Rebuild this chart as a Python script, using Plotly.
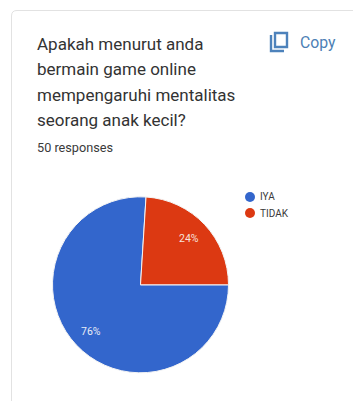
import plotly.graph_objects as go

# Survey answers (50 responses)
categories = ["IYA", "TIDAK"]
responses = [38, 12]
slice_colors = ["#3366cc", "#dc3912"]

question_lines = [
    "Apakah menurut anda",
    "bermain game online",
    "mempengaruhi mentalitas",
    "seorang anak kecil?",
]
response_count = "50 responses"
copy_label = "Copy"

W, H = 353, 401
FONT = "Roboto, Arial, sans-serif"


def px(x):
    return x / W


def py(y):
    return 1 - y / H


def path(points):
    return " ".join(
        f"{cmd}{px(x):.5f},{py(y):.5f}" for cmd, x, y in points
    )


fig = go.Figure(
    go.Pie(
        labels=categories,
        values=responses,
        sort=False,
        direction="clockwise",
        rotation=90,
        marker=dict(colors=slice_colors, line=dict(color="#f4f4f4", width=1)),
        textinfo="none",
        hoverinfo="label+percent",
        showlegend=False,
        domain=dict(x=[px(52.5), px(228.5)], y=[py(372.8), py(196.8)]),
    )
)

annotations = []


def label(x, y, text, size, color, anchor="left"):
    annotations.append(
        dict(
            x=px(x), y=py(y), xref="paper", yref="paper", text=text,
            showarrow=False, xanchor=anchor, yanchor="middle",
            font=dict(family=FONT, size=size, color=color),
            borderpad=0, borderwidth=0,
        )
    )


for i, line in enumerate(question_lines):
    label(36.5, 44 + i * 25.3, line, 17, "#333333")
label(36.5, 147.5, response_count, 12.7, "#3a3a3a")
label(300, 42, copy_label, 15.8, "#4d7fb5")

# Percentages placed on the slice bisectors
total = sum(responses)
label(91, 331, f"{responses[0] * 100 / total:.0f}%", 10.5, "#e8ecf6", "center")
label(188.5, 239, f"{responses[1] * 100 / total:.0f}%", 10.5, "#f6e2dc", "center")

# Legend rows
shapes = []
for i, (name, color) in enumerate(zip(categories, slice_colors)):
    cy = 197 + i * 16
    shapes.append(
        dict(type="circle", xref="paper", yref="paper", line_width=0,
             fillcolor=color, x0=px(245), x1=px(255), y0=py(cy + 5), y1=py(cy - 5))
    )
    label(259.5, cy, name, 10, "#3a3a3a")

# Card outline, open towards the right and bottom edges
shapes.append(
    dict(
        type="path", xref="paper", yref="paper", layer="below",
        line=dict(color="#e2e2e2", width=1),
        path=(
            f"M{px(11.5):.5f},{py(401):.5f} L{px(11.5):.5f},{py(16):.5f} "
            f"Q{px(11.5):.5f},{py(10.5):.5f} {px(17):.5f},{py(10.5):.5f} "
            f"L{px(353):.5f},{py(10.5):.5f}"
        ),
    )
)

# Copy icon: rear sheet outline and front sheet
icon = dict(color="#4d82bb", width=2.4)
shapes.append(
    dict(
        type="path", xref="paper", yref="paper", line=icon,
        path=path([("M", 271, 35), ("L", 271, 51), ("L", 284, 51)]),
    )
)
shapes.append(
    dict(
        type="path", xref="paper", yref="paper", line=icon,
        path=path([("M", 275, 33), ("L", 287, 33), ("L", 287, 47), ("L", 275, 47)]) + " Z",
    )
)

fig.update_layout(
    width=W, height=H, autosize=False,
    margin=dict(l=0, r=0, t=0, b=0),
    paper_bgcolor="#ffffff",
    shapes=shapes,
    annotations=annotations,
)

fig.write_html("out.html", config=dict(displayModeBar=False))
